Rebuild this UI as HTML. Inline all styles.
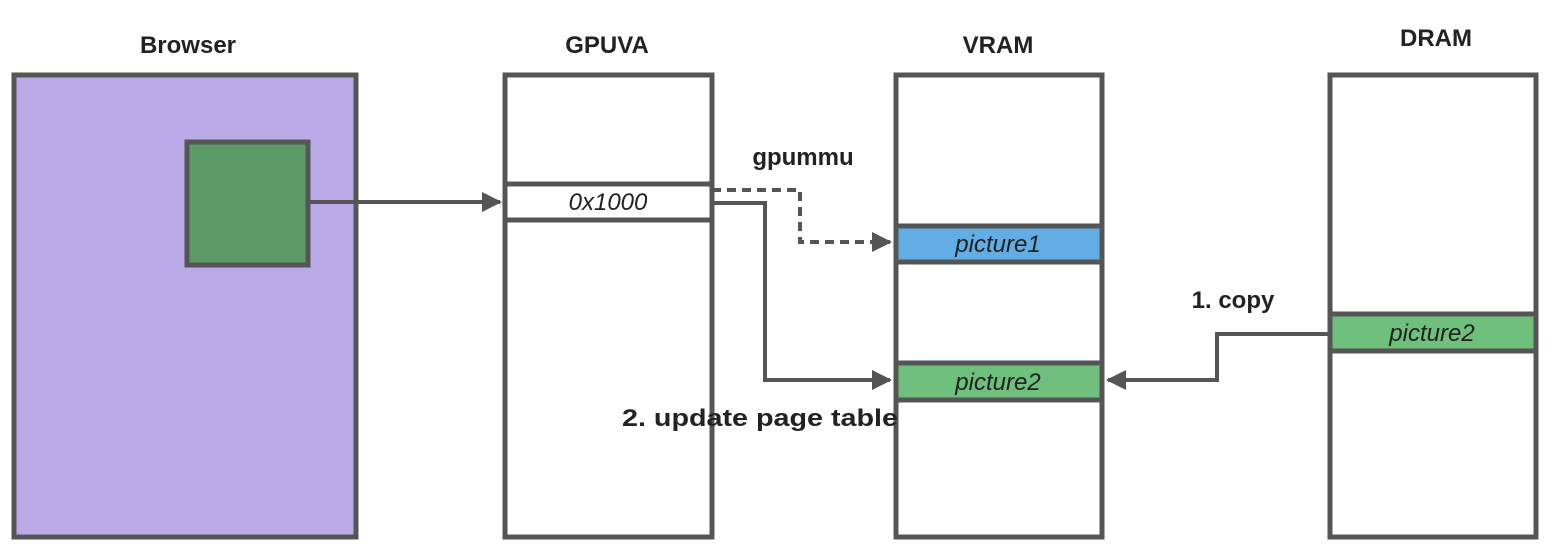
<!DOCTYPE html>
<html><head><style>body{margin:0;background:#fff}svg{display:block}</style></head><body>
<svg width="1554" height="545" viewBox="0 0 1554 545" xmlns="http://www.w3.org/2000/svg" font-family="Liberation Sans, sans-serif">
<defs><marker id="a" viewBox="0 0 10 10" refX="9" refY="5" markerWidth="5" markerHeight="5" orient="auto"><path d="M0,0L10,5L0,10z" fill="#555"/></marker></defs>
<g stroke="#555" stroke-width="5">
<rect x="14" y="75" width="342" height="462" fill="#bbaae8"/>
<rect x="187" y="142" width="121" height="123" fill="#5c9a68"/>
<rect x="505" y="75" width="207" height="462" fill="#fff"/>
<rect x="505" y="184" width="207" height="36" fill="#fff"/>
<rect x="896" y="75" width="206" height="462" fill="#fff"/>
<rect x="896" y="226" width="206" height="36" fill="#63ade5"/>
<rect x="896" y="363" width="206" height="37" fill="#6fc07c"/>
<rect x="1330" y="75" width="206" height="462" fill="#fff"/>
<rect x="1330" y="314" width="206" height="37" fill="#6fc07c"/>
<g fill="none" stroke-width="4">
<path d="M310 202H500" marker-end="url(#a)"/>
<path d="M712 190H800V242H890" stroke-dasharray="9 6" marker-end="url(#a)"/>
<path d="M712 203H765V380H890" marker-end="url(#a)"/>
<path d="M1329 334H1217V380H1108" marker-end="url(#a)"/></g></g>
<g fill="#222" font-weight="bold" font-size="24" text-anchor="middle">
<text x="188" y="53">Browser</text><text x="607" y="53">GPUVA</text><text x="998" y="53">VRAM</text><text x="1436" y="46">DRAM</text>
<text x="803" y="165">gpummu</text><text x="1233" y="308">1. copy</text><text x="760" y="426" textLength="276" lengthAdjust="spacingAndGlyphs">2. update page table</text></g>
<g font-style="italic" font-size="24" fill="#222" text-anchor="middle">
<text x="608" y="210">0x1000</text><text x="998" y="252">picture1</text><text x="998" y="390">picture2</text><text x="1432" y="341">picture2</text></g>
</svg></body></html>
